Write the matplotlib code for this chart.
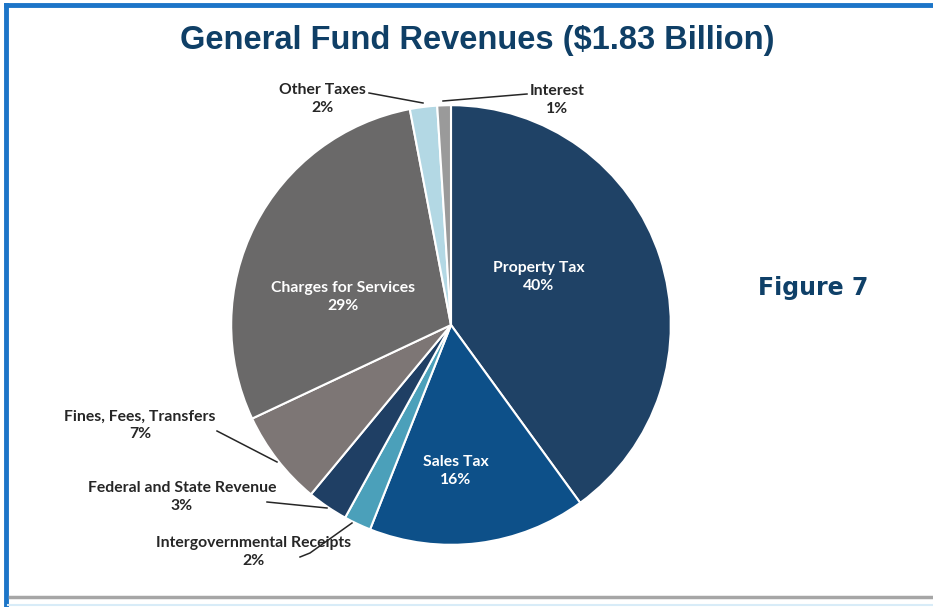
import matplotlib.pyplot as plt
from matplotlib.lines import Line2D

W, H = 933, 607

categories = ["Property Tax", "Sales Tax", "Intergovernmental Receipts",
              "Federal and State Revenue", "Fines, Fees, Transfers",
              "Charges for Services", "Other Taxes", "Interest"]
shares = [40, 16, 2, 3, 7, 29, 2, 1]
colors = ["#1f4266", "#0d5089", "#4ba0ba", "#1f3f64",
          "#7d7675", "#6a6969", "#b3d8e4", "#9a9a9a"]

# label positions (pixels) and whether the label sits inside the slice
label_pos = [(539, 277), (456, 471), (254, 552), (182, 497),
             (140, 425), (343, 297), (322, 99), (557, 100)]
inside = [True, True, False, False, False, True, False, False]
# leader lines for outside labels, pixel coords
leaders = {
    2: [(300, 557), (310, 553), (352, 523)],
    3: [(267, 502), (327, 508)],
    4: [(217, 431), (277, 462)],
    6: [(369, 93), (423, 103)],
    7: [(527, 94), (443, 101)],
}


def fx(x):
    return x / W


def fy(y):
    return 1 - y / H


fig = plt.figure(figsize=(W / 100, H / 100), dpi=100)

# pie centred at (451, 325) px, radius 222 px
cx, cy, r = 451, 325, 222
ax = fig.add_axes([fx(cx - r), fy(cy + r), 2 * r / W, 2 * r / H])
ax.pie(shares, colors=colors, startangle=90, counterclock=False,
       wedgeprops=dict(edgecolor="white", linewidth=1.5))
ax.set_xlim(-1.01, 1.01)
ax.set_ylim(-1.01, 1.01)
ax.set_aspect("equal")
ax.axis("off")

lab_font = ["Lato", "DejaVu Sans"]
for i, (name, val) in enumerate(zip(categories, shares)):
    x, y = label_pos[i]
    fig.text(fx(x), fy(y), f"{name}\n{val}%", ha="center", va="center",
             fontsize=11.3, fontweight="bold", family=lab_font,
             color="white" if inside[i] else "#262626", linespacing=1.3)

for pts in leaders.values():
    xs = [fx(p[0]) for p in pts]
    ys = [fy(p[1]) for p in pts]
    fig.add_artist(Line2D(xs, ys, color="#262626", linewidth=1.1))

# title and figure number
fig.text(fx(477), fy(40), "General Fund Revenues ($1.83 Billion)",
         ha="center", va="center", fontsize=23.5, fontweight="bold",
         family=["Liberation Sans", "DejaVu Sans"], color="#0f3f66")
fig.text(fx(813), fy(288), "Figure 7", ha="center", va="center",
         fontsize=17, fontweight="bold", family=["DejaVu Sans"],
         color="#0f4068")

# frame: blue top and left edges, grey rule at the bottom
fig.add_artist(Line2D([fx(6), 1], [fy(5), fy(5)], color="#1c75c8", linewidth=3.5))
fig.add_artist(Line2D([fx(6), fx(6)], [fy(5), 0], color="#1c75c8", linewidth=3.5))
fig.add_artist(Line2D([fx(10), 1], [fy(597), fy(597)], color="#a6a6a6", linewidth=2.5))
fig.add_artist(Line2D([fx(8), 1], [fy(605), fy(605)], color="#d8ecf8", linewidth=1.5))

fig.savefig("out.png", dpi=100)
